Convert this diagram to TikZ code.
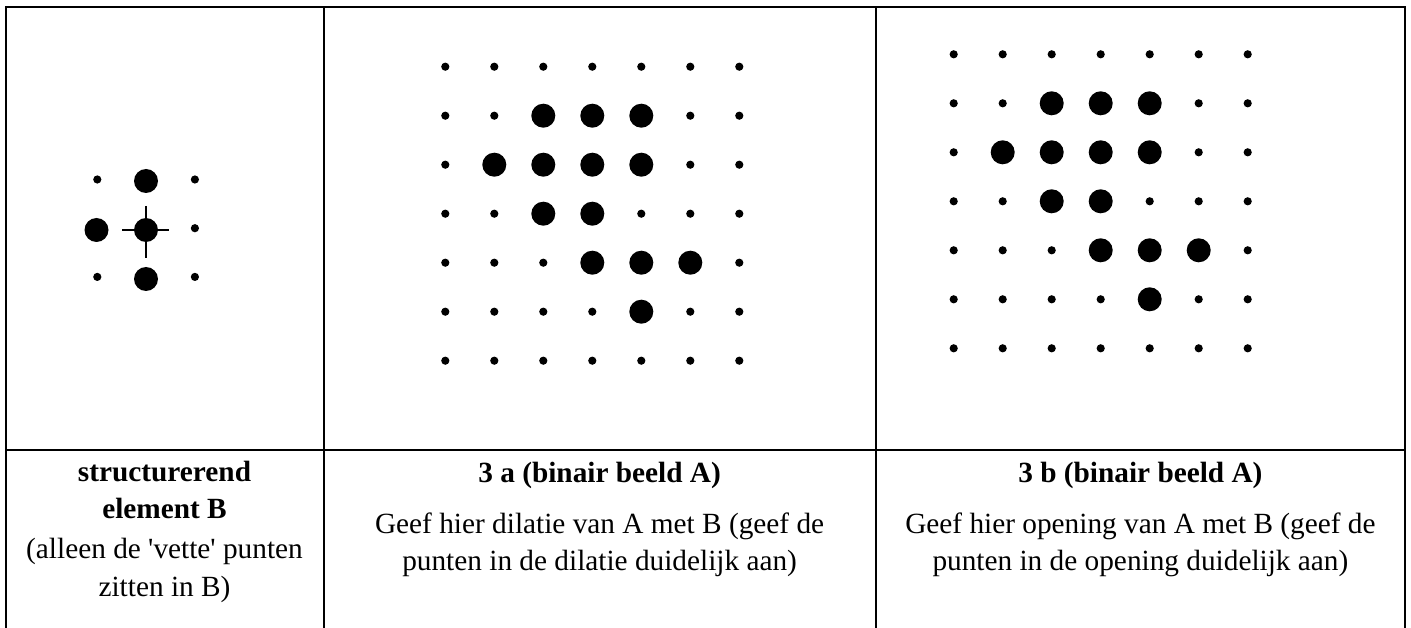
\documentclass[tikz,border=0pt]{standalone}
\usepackage{fontspec}
\setmainfont{Liberation Serif}
\begin{document}
\begin{tikzpicture}[x=1pt,y=-1pt,
  rule/.style={line width=2pt,line cap=rect},
  smalldot/.style={circle,fill=black,inner sep=0pt,minimum size=8.2pt},
  bigdot/.style={circle,fill=black,inner sep=0pt,minimum size=24pt},
  txt/.style={inner sep=0pt,anchor=base,font=\fontsize{29.3}{35}\selectfont},
  btxt/.style={txt,font=\fontsize{29.3}{35}\selectfont\bfseries},
  crossline/.style={line width=2pt}]
\useasboundingbox (0,0) rectangle (1411,628);

% table rules (open at the bottom)
\coordinate (tl) at (5.5,7.5);
\coordinate (tr) at (1405,7.5);
\coordinate (bl) at (5.5,628);
\coordinate (br) at (1405,628);
\coordinate (d1t) at (323.5,7.5);
\coordinate (d1b) at (323.5,628);
\coordinate (d2t) at (875.7,7.5);
\coordinate (d2b) at (875.7,628);
\coordinate (hl) at (5.5,450);
\coordinate (hr) at (1405,450);
\draw[rule] (bl) -- (tl) -- (tr) -- (br);
\draw[rule] (d1t) -- (d1b);
\draw[rule] (d2t) -- (d2b);
\draw[rule] (hl) -- (hr);

% structuring element B
\foreach \p in {0@1,1@0,1@1,2@1}{
  \expandafter\gdef\csname se@\p\endcsname{}}
\foreach \rr in {0,1,2}{\foreach \cc in {0,1,2}{
  \ifcsname se@\rr @\cc\endcsname\else
    \node[smalldot] (b-\rr-\cc) at ({97.3+48.8*\cc},{179.5+48.7*\rr}) {};
  \fi}}
\node[bigdot] (b-0-1) at (146,181) {};
\node[bigdot] (b-1-0) at (96.5,230) {};
\node[bigdot] (b-1-1) at (146,230) {};
\node[bigdot] (b-2-1) at (146,279) {};
\coordinate (cxl) at (122,230);
\coordinate (cxr) at (169,230);
\coordinate (cyt) at (146,206);
\coordinate (cyb) at (146,258.5);
\draw[crossline] (cxl) -- (cxr);
\draw[crossline] (cyt) -- (cyb);

% binary image A: the 'vette' points
\foreach \p in {1@2,1@3,1@4,2@1,2@2,2@3,2@4,3@2,3@3,4@3,4@4,4@5,5@4}{
  \expandafter\gdef\csname big@\p\endcsname{}}

% grid 3a
\foreach \rr in {0,...,6}{\foreach \cc in {0,...,6}{
  \ifcsname big@\rr @\cc\endcsname
    \node[bigdot] (a-\rr-\cc) at ({445.3+49*\cc},{66.7+49*\rr}) {};
  \else
    \node[smalldot] (a-\rr-\cc) at ({445.3+49*\cc},{66.7+49*\rr}) {};
  \fi}}

% grid 3b
\foreach \rr in {0,...,6}{\foreach \cc in {0,...,6}{
  \ifcsname big@\rr @\cc\endcsname
    \node[bigdot] (o-\rr-\cc) at ({953.7+49*\cc},{54.3+49*\rr}) {};
  \else
    \node[smalldot] (o-\rr-\cc) at ({953.7+49*\cc},{54.3+49*\rr}) {};
  \fi}}

% captions
\node[btxt] (l1) at (164.5,481) {structurerend};
\node[btxt] (l2) at (164.5,518) {element B};
\node[txt] (l3) at (164.5,558) {(alleen de \textquotesingle vette\textquotesingle{} punten};
\node[txt] (l4) at (164.5,596) {zitten in B)};

\node[btxt] (m1) at (599.6,482) {3 a (binair beeld A)};
\node[txt] (m2) at (599.6,533) {Geef hier dilatie van A met B (geef de};
\node[txt] (m3) at (599.6,570) {punten in de dilatie duidelijk aan)};

\node[btxt] (r1) at (1140.4,482) {3 b (binair beeld A)};
\node[txt] (r2) at (1140.4,533) {Geef hier opening van A met B (geef de};
\node[txt] (r3) at (1140.4,570) {punten in de opening duidelijk aan)};
\end{tikzpicture}
\end{document}
